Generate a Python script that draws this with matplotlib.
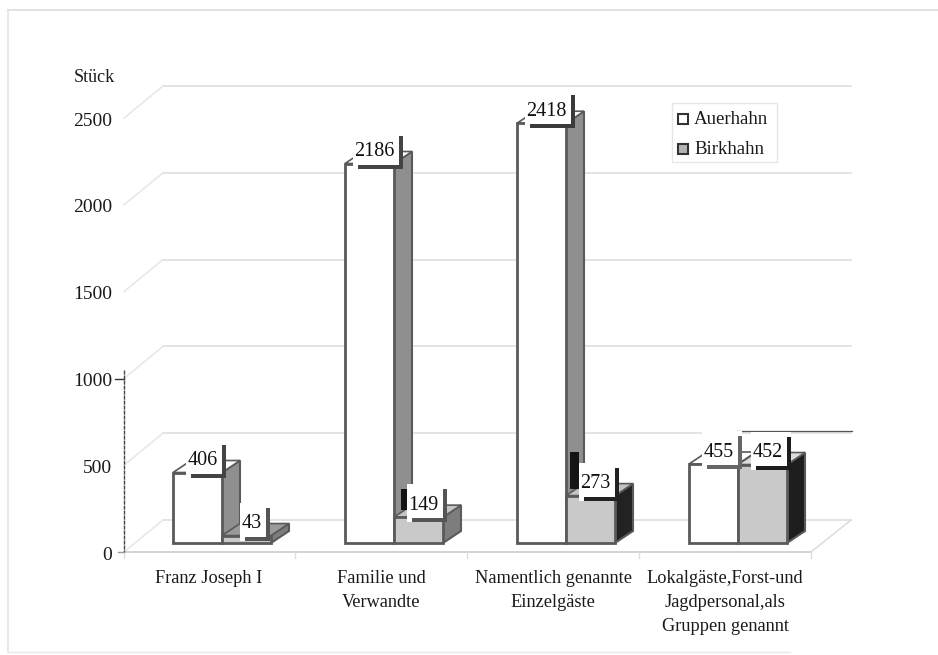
"""3D style bar chart: Auerhahn / Birkhahn per guest group."""

import matplotlib
matplotlib.use('Agg')
import matplotlib.pyplot as plt
from matplotlib.patches import Polygon, Rectangle
from matplotlib.transforms import Affine2D

plt.rcParams['font.family'] = ['Liberation Serif', 'DejaVu Serif']

# Data
categories = ['Franz Joseph I', 'Familie und\nVerwandte',
              'Namentlich genannte\nEinzelgäste',
              'Lokalgäste,Forst-und\nJagdpersonal,als\nGruppen genannt']
auerhahn = [406, 2186, 2418, 455]
birkhahn = [43, 149, 273, 452]
yticks = [0, 500, 1000, 1500, 2000, 2500]

# Layout, in pixels of the 938x655 picture
W, H = 938, 655
X0, DX = 222, 172      # first group centre, spacing of the groups
Y0, PX_PER_UNIT = 552, 0.1736
BAR_W = 49
DEPTH_X, DEPTH_Y = 18, 12
BASE = 9
BACK_X, BACK_Y = 39, 32
LEFT, RIGHT = 124, 811

fig = plt.figure(figsize=(W / 100, H / 100), dpi=100)
ax = fig.add_axes([0, 0, 1, 1])
ax.set_xlim(-X0 / DX, (W - X0) / DX)
ax.set_ylim((Y0 - H) / PX_PER_UNIT, Y0 / PX_PER_UNIT)
ax.axis('off')

# pixel coordinates with the origin top left, for frame and legend
px = Affine2D().scale(1 / W, -1 / H).translate(0, 1) + fig.transFigure

unit_x = 1 / DX
unit_y = 1 / PX_PER_UNIT
base = BASE * unit_y
bar_w = BAR_W * unit_x
dep_x, dep_y = DEPTH_X * unit_x, DEPTH_Y * unit_y

EDGE = '#5a5a5a'
GRID = '#dcdcdc'
shadow_col = '#444444'

# scan border of the page
ax.plot([8, 938], [10, 10], color='#dcdcdc', lw=1.2, transform=px)
ax.plot([8, 8], [10, 652], color='#e2e2e2', lw=1.1, transform=px)
ax.plot([8, 790], [652, 652], color='#e8e8e8', lw=1.0, transform=px)

# back wall, side wall and floor
for t in yticks:
    y = t * PX_PER_UNIT
    ax.plot([LEFT + BACK_X, 851], [Y0 - y - BACK_Y] * 2, color=GRID, lw=1.1,
            transform=px, zorder=1)
    ax.plot([LEFT, LEFT + BACK_X], [Y0 - y, Y0 - y - BACK_Y], color='#e6e6e6',
            lw=1.1, transform=px, zorder=1)
    ax.text(-(X0 - 112) * unit_x, t - 3 * unit_y, str(t), ha='right', va='center',
            fontsize=14, color='#1a1a1a')
ax.plot([LEFT, RIGHT], [Y0, Y0], color='#cccccc', lw=1.2, transform=px, zorder=1)
ax.plot([RIGHT, 851], [Y0, Y0 - BACK_Y], color=GRID, lw=1.1, transform=px, zorder=1)
ax.plot([LEFT, LEFT], [370, Y0], color='#444444', lw=1.0, ls=(0, (3, 0.6)),
        transform=px, zorder=2)
ax.plot([115, LEFT], [379, 379], color='#333333', lw=1.0, transform=px, zorder=2)
ax.plot([118, LEFT], [Y0, Y0], color='#999999', lw=1.0, transform=px, zorder=2)
ax.plot([737, 852], [431, 431], color='#555555', lw=0.9, transform=px, zorder=2)
for i in range(5):
    tx = LEFT + i * DX - (1 if i else 0)
    ax.plot([tx, tx], [Y0, Y0 + 6], color='#dddddd', lw=1.0, transform=px, zorder=1)
ax.text(74, 77, 'Stück', ha='left', va='center', fontsize=13,
        color='#1a1a1a', transform=px)


def draw_bar(x, value, front, top, side):
    """Front face through ax.bar, top and side as parallelograms."""
    left, right = x - bar_w, x
    y0, y1 = base, base + value
    ax.add_patch(Polygon([(right, y0), (right + dep_x, y0 + dep_y),
                          (right + dep_x, y1 + dep_y), (right, y1)],
                         facecolor=side, edgecolor=EDGE, lw=1.5, zorder=3))
    ax.add_patch(Polygon([(left, y1), (left + dep_x, y1 + dep_y),
                          (right + dep_x, y1 + dep_y), (right, y1)],
                         facecolor=top, edgecolor=EDGE, lw=1.2, zorder=3))
    ax.bar(left, value, width=bar_w, bottom=y0, align='edge', facecolor=front,
           edgecolor=EDGE, lw=2.0, zorder=4)


def draw_label(x, value, box_h=38):
    """White data label with the dark L shaped shadow from the scan."""
    text = str(value)
    width = (10 * len(text) + 10) * unit_x
    height = box_h * unit_y
    cx = x - 0.5 * bar_w + 8 * unit_x
    cy = base + value + 14 * unit_y
    lx, ly = cx - width / 2, cy - height / 2
    ax.add_patch(Rectangle((lx, ly), width, height, facecolor='white',
                           edgecolor='none', zorder=6))
    ax.add_patch(Rectangle((lx + width - 4 * unit_x, ly), 4 * unit_x,
                           height - 5 * unit_y, facecolor=shadow_col, zorder=7))
    ax.add_patch(Rectangle((lx + 5 * unit_x, ly), width - 5 * unit_x, 4 * unit_y,
                           facecolor=shadow_col, zorder=7))
    ax.text(cx - 3 * unit_x, cy - 2 * unit_y, text, ha='center', va='center',
            fontsize=14.5, color='#111111', zorder=8)
    return lx, ly, height


side_a = ['#8f8f8f', '#8f8f8f', '#8f8f8f', '#8f8f8f']
side_b = ['#7d7d7d', '#7d7d7d', '#222222', '#1e1e1e']
top_b = ['#9a9a9a', '#c4c4c4', '#c4c4c4', '#dddddd']
shadows_a = ['#444444', '#444444', '#3a3a3a', '#666666']
shadows_b = ['#555555', '#555555', '#222222', '#1c1c1c']

for i in range(len(categories)):
    draw_bar(i, auerhahn[i], 'white', 'white', side_a[i])
    draw_bar(i + bar_w, birkhahn[i], '#c9c9c9', top_b[i], side_b[i])

for i in range(len(categories)):
    shadow_col = shadows_a[i]
    draw_label(i, auerhahn[i])
    shadow_col = shadows_b[i]
    lx, ly, h = draw_label(i + bar_w, birkhahn[i])
    # dark scan blot left of the two middle Birkhahn labels
    if i in (1, 2):
        w = (6 if i == 1 else 9) * unit_x
        ax.add_patch(Rectangle((lx - w, ly + 12 * unit_y), w,
                               21 * unit_y if i == 1 else 37 * unit_y,
                               facecolor='#141414', zorder=5))

# category labels
for i, c in enumerate(categories):
    ax.text(i - 13 * unit_x, -(570 - Y0) * unit_y, c, ha='center', va='top',
            fontsize=13.2, linespacing=1.52, color='#1a1a1a', zorder=8)

# legend
ax.add_patch(Rectangle((672, 103), 105, 59, facecolor='white', edgecolor='#e6e6e6',
                       lw=1.0, transform=px, zorder=5))
legend_y = [119, 149]
legend_names = ['Auerhahn', 'Birkhahn']
legend_cols = ['white', '#b5b5b5']
for yy, name, col in zip(legend_y, legend_names, legend_cols):
    ax.add_patch(Rectangle((678, yy - 5), 10, 10, facecolor=col, edgecolor='#333333',
                           lw=1.5, transform=px, zorder=6))
    ax.text(694, yy, name, ha='left', va='center', fontsize=13.6, color='#1a1a1a',
            transform=px, zorder=6)

plt.savefig('out.png', dpi=100)
